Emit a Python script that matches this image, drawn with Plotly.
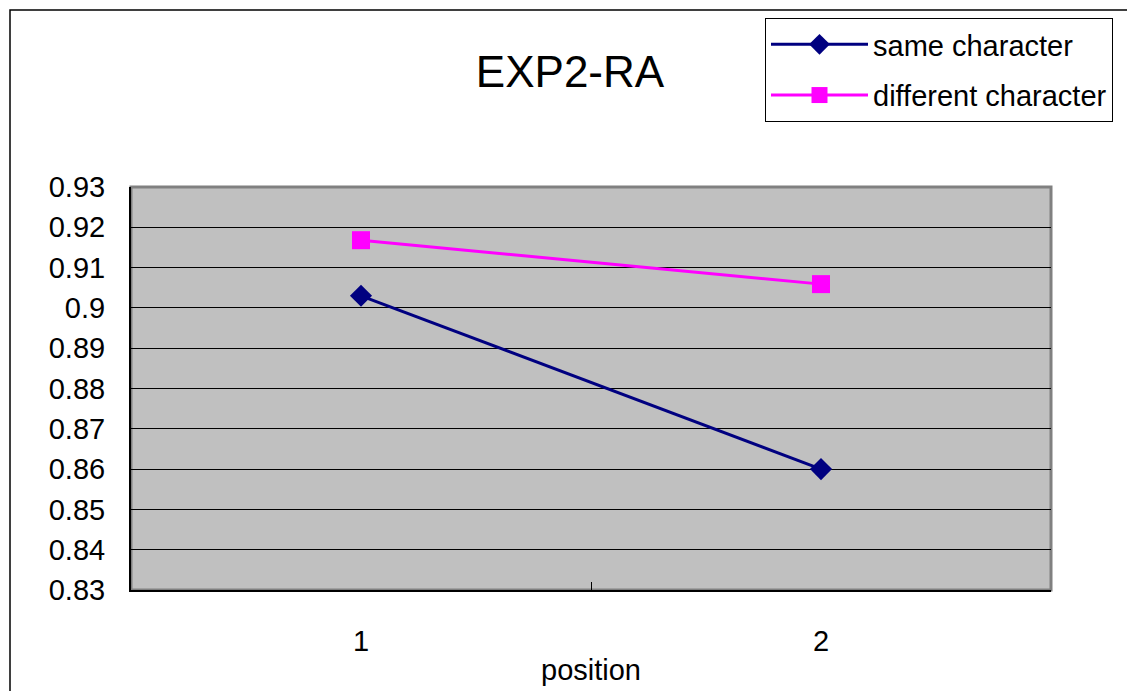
import plotly.graph_objects as go

positions = ["1", "2"]
same_character = [0.903, 0.860]
different_character = [0.9168, 0.9059]
y_tickvals = [0.83, 0.84, 0.85, 0.86, 0.87, 0.88, 0.89, 0.90, 0.91, 0.92, 0.93]
y_ticktext = ["0.83", "0.84", "0.85", "0.86", "0.87", "0.88", "0.89", "0.9", "0.91", "0.92", "0.93"]

FONT = "Liberation Sans, Arial, sans-serif"

fig = go.Figure()
fig.add_trace(go.Scatter(
    x=positions, y=same_character, name="same character", mode="lines+markers",
    line=dict(color="#000080", width=3),
    marker=dict(symbol="diamond", size=17, color="#000080"),
    legendgroup="a",
))
fig.add_trace(go.Scatter(
    x=positions, y=different_character, name="different character", mode="lines+markers",
    line=dict(color="#FF00FF", width=3),
    marker=dict(symbol="square", size=18, color="#FF00FF"),
    legendgroup="b",
))

L, R, T, B = 131, 76, 187, 101
W, H = 1127, 691
pw, ph = W - L - R, H - T - B

def px_x(p):
    return (p - L) / pw

def px_y(p):
    return (H - B - p) / ph

fig.update_layout(
    width=W, height=H,
    margin=dict(l=L, r=R, t=T, b=B),
    paper_bgcolor="white",
    plot_bgcolor="#C0C0C0",
    font=dict(family=FONT, size=29, color="black"),
    title=dict(text="EXP2-RA", font=dict(size=44, family=FONT, color="black"),
               x=570 / W, xref="container", xanchor="center",
               y=1 - 72 / H, yref="container", yanchor="middle"),
    showlegend=True,
    legend=dict(
        x=px_x(765), y=px_y(18), xanchor="left", yanchor="top",
        bgcolor="white", bordercolor="black", borderwidth=1,
        font=dict(size=29, family=FONT, color="black"),
        itemwidth=97, tracegroupgap=10, entrywidth=260,
    ),
    xaxis=dict(
        type="category", range=[-0.5, 1.5], showgrid=False,
        showline=True, linecolor="black", linewidth=2,
        ticks="inside", tickson="boundaries", ticklen=8, tickcolor="black",
        ticklabelstandoff=24, tickfont=dict(size=29),
        title=dict(text="position", font=dict(size=29), standoff=4),
        automargin=False, zeroline=False,
    ),
    yaxis=dict(
        range=[0.83, 0.93], tickvals=y_tickvals, ticktext=y_ticktext,
        showgrid=True, gridcolor="black", gridwidth=1,
        showline=True, linecolor="black", linewidth=2,
        ticks="", ticklabelstandoff=18, tickfont=dict(size=29),
        automargin=False, zeroline=False,
    ),
    shapes=[
        dict(type="rect", xref="paper", yref="paper", x0=0, x1=1, y0=0, y1=1,
             line=dict(color="#808080", width=3), layer="below"),
        dict(type="rect", xref="paper", yref="paper",
             x0=px_x(10), x1=px_x(1200), y0=px_y(760), y1=px_y(10),
             line=dict(color="black", width=1.5), layer="above"),
    ],
)

fig.write_html("out.html")
